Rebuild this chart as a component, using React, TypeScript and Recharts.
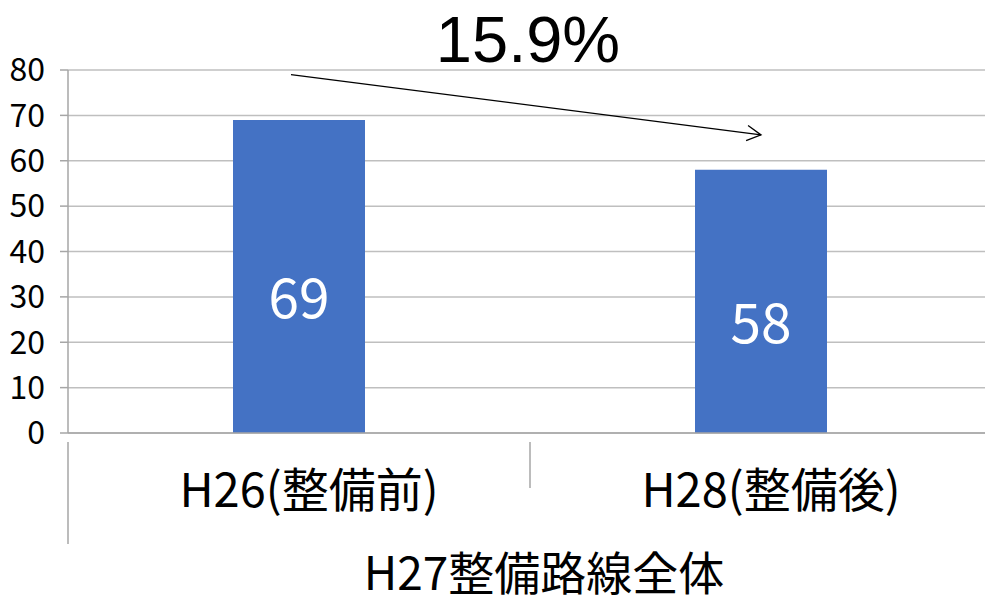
import React from 'react';
import { BarChart, Bar, XAxis, YAxis, CartesianGrid, LabelList, ReferenceLine } from 'recharts';

const categories = ['H26(整備前)', 'H28(整備後)'];
const values = [69, 58];
const yTicks = [0, 10, 20, 30, 40, 50, 60, 70, 80];
const groupLabel = 'H27整備路線全体';
const changeLabel = '15.9%';
// arrow drawn between the two categories (value units)
const arrowFrom = 79;
const arrowTo = 65.7;

const FONT = '"Noto Sans CJK JP", "Noto Sans", sans-serif';
const BAR_COLOR = '#4472C4';
const AXIS_GRAY = '#a6a6a6';

const data = categories.map((name, i) => ({ name, value: values[i] }));

function CategoryTick(props: any) {
  const { x, y, payload, index } = props;
  const half = payload && payload.offset ? payload.offset : 0;
  return (
    <g>
      {index === 0 && (
        <line x1={x - half} x2={x - half} y1={y + 9} y2={y + 111} stroke={AXIS_GRAY} strokeWidth={1.5} />
      )}
      {index < categories.length - 1 && (
        <line x1={x + half} x2={x + half} y1={y + 9} y2={y + 55} stroke={AXIS_GRAY} strokeWidth={1.5} />
      )}
      <text x={x + 10} y={y + 53} textAnchor="middle" dominantBaseline="central" fontSize={47} fill="#000">
        {payload.value}
      </text>
    </g>
  );
}

function ValueLabel(props: any) {
  const { x, y, width, height, value } = props;
  return (
    <text
      x={x + width / 2}
      y={y + height / 2 + 18}
      textAnchor="middle"
      dominantBaseline="central"
      fontSize={55}
      fill="#fff"
    >
      {value}
    </text>
  );
}

function ArrowShape(props: any) {
  const { x1, y1, x2, y2 } = props;
  if ([x1, y1, x2, y2].some((v) => typeof v !== 'number')) return null;
  const ang = Math.atan2(y2 - y1, x2 - x1);
  const len = 16;
  const a1 = ang + Math.PI - 0.5;
  const a2 = ang + Math.PI + 0.5;
  return (
    <g stroke="#000" strokeWidth={1.3} fill="none">
      <line x1={x1 - 8} y1={y1} x2={x2} y2={y2} />
      <polyline
        points={`${x2 + len * Math.cos(a1)},${y2 + len * Math.sin(a1)} ${x2},${y2} ${x2 + len * Math.cos(a2)},${y2 + len * Math.sin(a2)}`}
      />
    </g>
  );
}

function GroupLabel(props: any) {
  const vb = props.viewBox || {};
  return (
    <text
      x={vb.x + vb.width / 2 + 14}
      y={vb.y + 137}
      textAnchor="middle"
      dominantBaseline="central"
      fontSize={46}
      fill="#000"
    >
      {groupLabel}
    </text>
  );
}

export default function App() {
  return (
    <div
      style={{
        position: 'absolute',
        left: 0,
        top: 0,
        width: 985,
        height: 603,
        overflow: 'hidden',
        background: '#fff',
        fontFamily: FONT,
      }}
    >
      <div
        style={{
          position: 'absolute',
          left: 408,
          width: 240,
          top: 2,
          textAlign: 'center',
          fontSize: 65,
          lineHeight: 'normal',
          fontFamily: '"Liberation Sans", sans-serif',
          color: '#000',
        }}
      >
        {changeLabel}
      </div>
      <BarChart width={992} height={603} data={data} margin={{ top: 70, right: 0, bottom: 0, left: 0 }} barSize={132}>
        <CartesianGrid vertical={false} stroke="#bfbfbf" strokeWidth={1.5} />
        <XAxis
          dataKey="name"
          height={170}
          axisLine={{ stroke: AXIS_GRAY, strokeWidth: 1.5 }}
          tickLine={false}
          tickSize={0}
          tickMargin={0}
          interval={0}
          tick={<CategoryTick />}
          label={GroupLabel}
        />
        <YAxis
          width={68}
          domain={[0, 80]}
          ticks={yTicks}
          interval={0}
          tickSize={8}
          tickMargin={15}
          axisLine={{ stroke: AXIS_GRAY, strokeWidth: 1.5 }}
          tickLine={{ stroke: AXIS_GRAY, strokeWidth: 1.5 }}
          tick={{ fontSize: 32, fill: '#000', fontFamily: FONT }}
        />
        <Bar dataKey="value" fill={BAR_COLOR} isAnimationActive={false}>
          <LabelList dataKey="value" content={<ValueLabel />} />
        </Bar>
        <ReferenceLine
          segment={[
            { x: categories[0], y: arrowFrom },
            { x: categories[1], y: arrowTo },
          ]}
          shape={<ArrowShape />}
        />
      </BarChart>
    </div>
  );
}
